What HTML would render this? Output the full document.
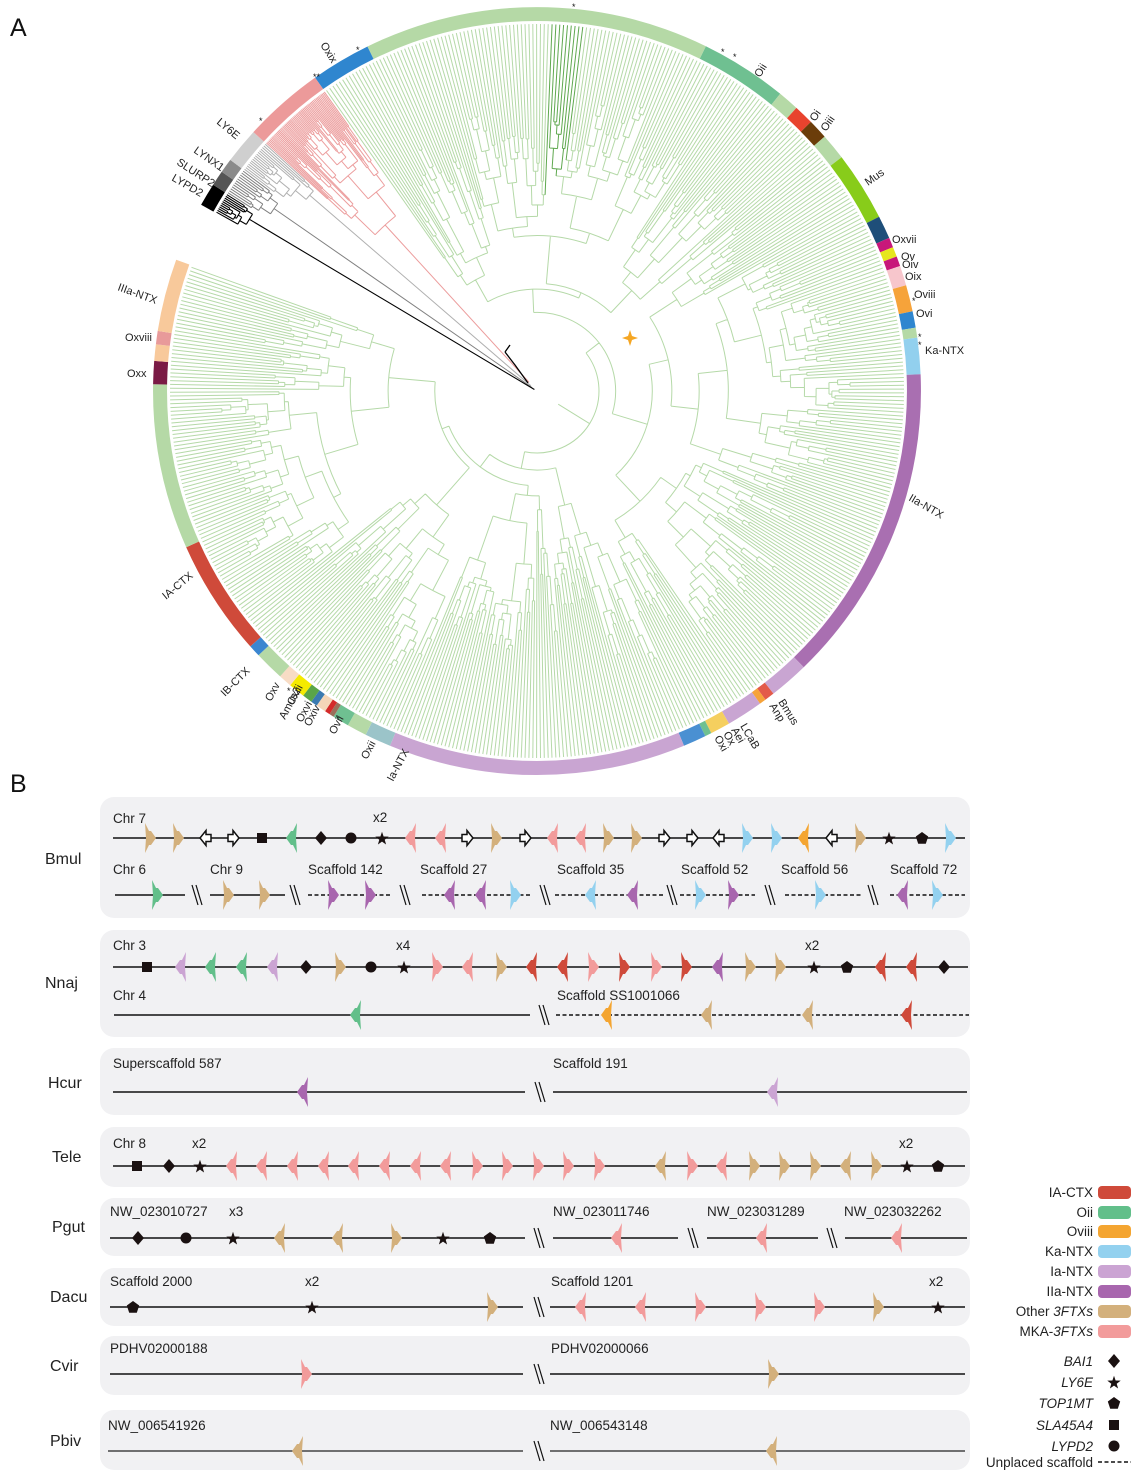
<!DOCTYPE html>
<html><head><meta charset="utf-8">
<style>
html,body{margin:0;padding:0;background:#fff;}
svg{display:block;font-family:"Liberation Sans",Arial,sans-serif;}
.lb{font-size:13.5px;fill:#222;}
.rl{font-size:16px;fill:#222;}
.tl{font-size:11px;fill:#222;}
.lg{font-size:13.5px;fill:#222;text-anchor:end;}
</style></head>
<body>
<svg id="s" width="1143" height="1479" viewBox="0 0 1143 1479" xmlns="http://www.w3.org/2000/svg">
<text x="10" y="36" font-size="25" fill="#111">A</text>
<text x="10" y="792" font-size="25" fill="#111">B</text>
<g id="tree"></g>
<g id="ring"></g>
<g class="tl">
<text transform="translate(320,45) rotate(58)">Oxix</text>
<text transform="translate(216,123) rotate(40)">LY6E</text>
<text transform="translate(193,152) rotate(35)">LYNX1</text>
<text transform="translate(176,164) rotate(33)">SLURP2</text>
<text transform="translate(171,180) rotate(30)">LYPD2</text>
<text transform="translate(760,78) rotate(-58)">Oii</text>
<text transform="translate(815,122) rotate(-55)">Oi</text>
<text transform="translate(826,132) rotate(-55)">Oiii</text>
<text transform="translate(868,186) rotate(-35)">Mus</text>
<text x="892" y="243">Oxvii</text>
<text x="901" y="260">Ov</text>
<text x="902" y="268">Oiv</text>
<text x="905" y="280">Oix</text>
<text x="914" y="298">Oviii</text>
<text x="916" y="317">Ovi</text>
<text x="925" y="354">Ka-NTX</text>
<text transform="translate(908,500) rotate(30)">IIa-NTX</text>
<text transform="translate(778,702) rotate(58)">Bmus</text>
<text transform="translate(769,706) rotate(58)">Anp</text>
<text transform="translate(740,726) rotate(60)">LCaB</text>
<text transform="translate(731,730) rotate(60)">Aei</text>
<text transform="translate(723,734) rotate(60)">Ox</text>
<text transform="translate(714,738) rotate(60)">Oxi</text>
<text transform="translate(393,782) rotate(-62)">Ia-NTX</text>
<text transform="translate(367,760) rotate(-62)">Oxii</text>
<text transform="translate(335,735) rotate(-62)">Ovii</text>
<text transform="translate(310,727) rotate(-62)">Oxiv</text>
<text transform="translate(302,723) rotate(-62)">Oxvi</text>
<text transform="translate(293,706) rotate(-62)">Oxiii</text>
<text transform="translate(285,720) rotate(-62)">Amus2</text>
<text transform="translate(271,702) rotate(-62)">Oxv</text>
<text transform="translate(225,697) rotate(-45)">IB-CTX</text>
<text transform="translate(166,600) rotate(-40)">IA-CTX</text>
<text transform="translate(117,290) rotate(20)">IIIa-NTX</text>
<text x="125" y="341">Oxviii</text>
<text x="127" y="377">Oxx</text>
</g>
<g font-size="9" fill="#111">
<text x="572" y="10">*</text><text x="356" y="53">*</text><text x="313" y="80">**</text>
<text x="259" y="124">*</text><text x="721" y="55">*</text><text x="733" y="60">*</text>
<text x="912" y="304">*</text><text x="918" y="340">*</text><text x="918" y="348">*</text>
<text x="336" y="722">*</text><text x="287" y="694">*</text>
</g>
<polygon points="630,330 632,336 638,338 632,340 630,346 628,340 622,338 628,336" fill="#f5a623"/>

<g fill="#f1f1f3">
<rect x="100" y="797" width="870" height="121" rx="14"/>
<rect x="100" y="930" width="870" height="107" rx="14"/>
<rect x="100" y="1048" width="870" height="67" rx="14"/>
<rect x="100" y="1127" width="870" height="60" rx="14"/>
<rect x="100" y="1198" width="870" height="58" rx="14"/>
<rect x="100" y="1268" width="870" height="58" rx="14"/>
<rect x="100" y="1336" width="870" height="59" rx="14"/>
<rect x="100" y="1410" width="870" height="60" rx="14"/>
</g>
<g class="rl">
<text x="45" y="864">Bmul</text>
<text x="45" y="988">Nnaj</text>
<text x="48" y="1088">Hcur</text>
<text x="52" y="1162">Tele</text>
<text x="52" y="1232">Pgut</text>
<text x="50" y="1302">Dacu</text>
<text x="50" y="1371">Cvir</text>
<text x="50" y="1446">Pbiv</text>
</g>
<g class="lb">
<text x="113" y="823">Chr 7</text><text x="373" y="822">x2</text>
<text x="113" y="874">Chr 6</text><text x="210" y="874">Chr 9</text><text x="308" y="874">Scaffold 142</text>
<text x="420" y="874">Scaffold 27</text><text x="557" y="874">Scaffold 35</text><text x="681" y="874">Scaffold 52</text>
<text x="781" y="874">Scaffold 56</text><text x="890" y="874">Scaffold 72</text>
<text x="113" y="950">Chr 3</text><text x="396" y="950">x4</text><text x="805" y="950">x2</text>
<text x="113" y="1000">Chr 4</text><text x="557" y="1000">Scaffold SS1001066</text>
<text x="113" y="1068">Superscaffold 587</text><text x="553" y="1068">Scaffold 191</text>
<text x="113" y="1148">Chr 8</text><text x="192" y="1148">x2</text><text x="899" y="1148">x2</text>
<text x="110" y="1216">NW_023010727</text><text x="229" y="1216">x3</text>
<text x="553" y="1216">NW_023011746</text><text x="707" y="1216">NW_023031289</text><text x="844" y="1216">NW_023032262</text>
<text x="110" y="1286">Scaffold 2000</text><text x="305" y="1286">x2</text>
<text x="551" y="1286">Scaffold 1201</text><text x="929" y="1286">x2</text>
<text x="110" y="1353">PDHV02000188</text><text x="551" y="1353">PDHV02000066</text>
<text x="108" y="1430">NW_006541926</text><text x="550" y="1430">NW_006543148</text>
</g>
<g id="genes"></g>
<g class="lg">
<text x="1093" y="1197">IA-CTX</text>
<text x="1093" y="1217">Oii</text>
<text x="1093" y="1236">Oviii</text>
<text x="1093" y="1256">Ka-NTX</text>
<text x="1093" y="1276">Ia-NTX</text>
<text x="1093" y="1296">IIa-NTX</text>
<text x="1093" y="1316">Other <tspan font-style="italic">3FTXs</tspan></text>
<text x="1093" y="1336">MKA-<tspan font-style="italic">3FTXs</tspan></text>
<text x="1093" y="1366" font-style="italic">BAI1</text>
<text x="1093" y="1387" font-style="italic">LY6E</text>
<text x="1093" y="1408" font-style="italic">TOP1MT</text>
<text x="1093" y="1430" font-style="italic">SLA45A4</text>
<text x="1093" y="1451" font-style="italic">LYPD2</text>
<text x="1093" y="1467">Unplaced scaffold</text>
</g>
<g>
<rect x="1098" y="1186" width="33" height="13" rx="4" fill="#cf4a3a"/>
<rect x="1098" y="1206" width="33" height="13" rx="4" fill="#62bf8a"/>
<rect x="1098" y="1225" width="33" height="13" rx="4" fill="#f4a531"/>
<rect x="1098" y="1245" width="33" height="13" rx="4" fill="#93d1ef"/>
<rect x="1098" y="1265" width="33" height="13" rx="4" fill="#cba4d3"/>
<rect x="1098" y="1285" width="33" height="13" rx="4" fill="#a866ae"/>
<rect x="1098" y="1305" width="33" height="13" rx="4" fill="#d3b07c"/>
<rect x="1098" y="1325" width="33" height="13" rx="4" fill="#f29b9b"/>
<line x1="1098" y1="1462" x2="1131" y2="1462" stroke="#111" stroke-width="1.6" stroke-dasharray="4,2.5"/>
</g>
<g id="legsym"></g>
</svg>
<script>
(function(){
var NS='http://www.w3.org/2000/svg';
function el(t,a,p){var e=document.createElementNS(NS,t);for(var k in a)e.setAttribute(k,a[k]);p.appendChild(e);return e;}
var s=1234567;function rnd(){s|=0;s=s+0x6D2B79F5|0;var t=Math.imul(s^s>>>15,1|s);t=t+Math.imul(t^t>>>7,61|t)^t;return((t^t>>>14)>>>0)/4294967296;}
var cx=537,cy=391,RT=367;
function P(b,r){var t=b*Math.PI/180;return[(cx+r*Math.sin(t)).toFixed(1),(cy-r*Math.cos(t)).toFixed(1)];}
var paths={};function add(c,d){(paths[c]=paths[c]||[]).push(d);}
function build(a0,a1,n,rp,col,o,rf){
 var c=col;
 if(col==='#b5d9a8'&&a0>=1.5&&a1<=7.5)c='#5fa84f';
 var r;
 if(n==1)r=RT;else if(rf)r=rf;else r=rp+(RT-rp)*(o.fmin+(o.fmax-o.fmin)*rnd());
 var ang;
 if(n==1){ang=(a0+a1)/2;}
 else{
  var k=Math.max(1,Math.min(n-1,Math.round(n*(0.12+0.76*rnd()))));
  var am=a0+(a1-a0)*k/n;
  var g1=build(a0,am,k,r,col,o),g2=build(am,a1,n-k,r,col,o);
  var p1=P(g1,r),p2=P(g2,r);
  add(c,'M'+p1+'A'+r.toFixed(1)+','+r.toFixed(1)+' 0 '+((g2-g1)>180?1:0)+' 1 '+p2);
  ang=(g1+g2)/2;
 }
 var q1=P(ang,rp),q2=P(ang,r);add(c,'M'+q1+'L'+q2);
 return ang;
}
build(-35.3,290,540,25,'#b5d9a8',{fmin:0.02,fmax:0.2},62);
build(-47.6,-35.3,52,12,'#ec9d9d',{fmin:0.05,fmax:0.3},225);
build(-53,-47.6,16,8,'#b0b0b0',{fmin:0.05,fmax:0.3},300);
build(-57.5,-53,12,6,'#808080',{fmin:0.05,fmax:0.3},320);
build(-61,-57.5,11,3,'#000000',{fmin:0.05,fmax:0.3},335);
var tg=document.getElementById('tree');
for(var c in paths)el('path',{d:paths[c].join(''),stroke:c,'stroke-width':c==='#000000'?1.1:1.0,fill:'none'},tg);
el('path',{d:'M528,383 L515,365 M515,365 L505,352 M505,352 L510,345 M515,365 L520,372',stroke:'#000','stroke-width':1.3,fill:'none'},tg);
var ring=[[-61,-57.5,'#000'],[-57.5,-55.2,'#555'],[-55.2,-53,'#8a8a8a'],[-53,-47.6,'#cfcfcf'],[-47.6,-35.3,'#ec9a9a'],[-35.3,-26.2,'#2f86cf'],[-26.2,26.1,'#b5d9a6'],[26.1,39.3,'#6fc091'],[39.3,42.5,'#b5d9a6'],[42.5,45.5,'#e8432e'],[45.5,48.5,'#6b3d0a'],[48.5,52.5,'#b5d9a6'],[52.5,63,'#88cc1a'],[63,66.5,'#1e4e79'],[66.5,68,'#c8177a'],[68,69.5,'#e6e61e'],[69.5,71,'#c8177a'],[71,74,'#f7c6cc'],[74,78,'#f6a33a'],[78,80.5,'#2f86cf'],[80.5,82,'#b5d9a6'],[82,87.5,'#92d0ee'],[87.5,136,'#a96fb1'],[136,142,'#c9a5d2'],[142,143.5,'#e35a4a'],[143.5,144.5,'#f6a33a'],[144.5,150,'#c9a5d2'],[150,153,'#f5cf5f'],[153,154,'#6fc091'],[154,157.5,'#4a90d2'],[157.5,202.5,'#c9a5d2'],[202.5,206.5,'#9bc4c9'],[206.5,209.5,'#b5d9a6'],[209.5,212,'#6fc091'],[212,212.7,'#9a6f5a'],[212.7,213.5,'#d42a2a'],[213.5,215,'#f4d6b8'],[215,216,'#3a7ab0'],[216,217.5,'#5aa548'],[217.5,220,'#f5ea00'],[220,222,'#f8dcc5'],[222,226.5,'#b5d9a6'],[226.5,228.3,'#3a86d0'],[228.3,246,'#cf4a3a'],[246,271,'#b5d9a6'],[271,274.5,'#7a1a45'],[274.5,277,'#f8c99b'],[277,279,'#e89a9a'],[279,290,'#f8c99b']];
var rg=document.getElementById('ring'),R1=370,R2=384;
ring.forEach(function(g){var a=P(g[0],R2),b=P(g[1],R2),c2=P(g[1],R1),d=P(g[0],R1);var L=(g[1]-g[0])>180?1:0;
 el('path',{d:'M'+a+'A'+R2+','+R2+' 0 '+L+' 1 '+b+'L'+c2+'A'+R1+','+R1+' 0 '+L+' 0 '+d+'Z',fill:g[2]},rg);});
var G=document.getElementById('genes');
var C={t:'#d3b07c',p:'#f29b9b',g:'#62bf8a',b:'#93d1ef',u:'#a866ae',l:'#cba4d3',r:'#cf4a3a',o:'#f4a531'};
function sym(t,x,y,dir,p){
 p=p||G;
 if(C[t]){var pts=[[-5,-15],[-1,-7],[1,-7],[6,0],[1,7],[-1,7],[-5,15],[-4,0]];
  el('polygon',{points:pts.map(function(q){return (x+q[0]*dir)+','+(y+q[1]);}).join(' '),fill:C[t]},p);}
 else if(t=='oR'||t=='oL'){var d=t=='oR'?1:-1;var pts=[[-5,-3.5],[0,-3.5],[0,-7.5],[6,0],[0,7.5],[0,3.5],[-5,3.5]];
  el('polygon',{points:pts.map(function(q){return (x+q[0]*d)+','+(y+q[1]);}).join(' '),fill:'#fff',stroke:'#111','stroke-width':1.5},p);}
 else if(t=='sq')el('rect',{x:x-5,y:y-5,width:10,height:10,fill:'#1a1111'},p);
 else if(t=='dia')el('polygon',{points:x+','+(y-7)+' '+(x+6)+','+y+' '+x+','+(y+7)+' '+(x-6)+','+y,fill:'#1a1111'},p);
 else if(t=='cir')el('circle',{cx:x,cy:y,r:5.5,fill:'#1a1111'},p);
 else if(t=='star'||t=='pent'){var pts=[];
  for(var i=0;i<(t=='star'?10:5);i++){var rr=t=='star'?(i%2?2.8:7):6.5;var a=Math.PI*2*i/(t=='star'?10:5);pts.push((x+rr*Math.sin(a)).toFixed(1)+','+(y-rr*Math.cos(a)+(t=='star'?0.8:0.5)).toFixed(1));}
  el('polygon',{points:pts.join(' '),fill:'#1a1111'},p);}
}
function line(x1,x2,y,dash,col){el('line',{x1:x1,x2:x2,y1:y,y2:y,stroke:col||'#111','stroke-width':1.5,'stroke-dasharray':dash?'4,2.5':'none'},G);}
function brk(x,y){el('path',{d:'M'+(x-5)+','+(y-10)+'L'+(x+1)+','+(y+10)+'M'+(x-1)+','+(y-10)+'L'+(x+5)+','+(y+10),stroke:'#111','stroke-width':1.2},G);}
function row(y,items){items.forEach(function(it){sym(it[1],it[0],y,it[2]||1);});}
line(113,965,838);
row(838,[[150,'t',1],[178,'t',1],[206,'oL'],[233,'oR'],[262,'sq'],[292,'g',-1],[321,'dia'],[351,'cir'],[382,'star'],[411,'p',-1],[441,'p',-1],[467,'oR'],[496,'t',1],[525,'oR'],[553,'p',-1],[581,'p',-1],[608,'t',1],[636,'t',1],[664,'oR'],[692,'oR'],[719,'oL'],[747,'b',1],[776,'b',1],[804,'o',-1],[832,'oL'],[860,'t',1],[889,'star'],[922,'pent'],[950,'b',1]]);
var y2=895;
line(115,185,y2);brk(197,y2);line(210,285,y2);brk(295,y2);line(308,392,y2,1);brk(405,y2);line(422,532,y2,1);brk(545,y2);line(555,665,y2,1);brk(672,y2);line(680,755,y2,1);brk(770,y2);line(785,862,y2,1);brk(873,y2);line(890,965,y2,1);
row(y2,[[157,'g',1],[228,'t',1],[264,'t',1],[333,'u',1],[370,'u',1],[450,'u',-1],[481,'u',-1],[515,'b',1],[591,'b',-1],[633,'u',-1],[700,'b',1],[733,'u',1],[820,'b',1],[903,'u',-1],[937,'b',1]]);
line(113,968,967);
row(967,[[147,'sq'],[181,'l',-1],[211,'g',-1],[242,'g',-1],[273,'l',-1],[306,'dia'],[340,'t',1],[371,'cir'],[404,'star'],[437,'p',1],[468,'p',-1],[501,'t',1],[532,'r',-1],[563,'r',-1],[593,'p',1],[624,'r',1],[656,'p',1],[686,'r',1],[718,'u',-1],[750,'t',1],[780,'t',1],[814,'star'],[847,'pent'],[881,'r',-1],[912,'r',-1],[944,'dia']]);
line(114,530,1015);brk(544,1015);line(556,969,1015,1);
row(1015,[[356,'g',-1],[607,'o',-1],[707,'t',-1],[808,'t',-1],[907,'r',-1]]);
line(113,525,1092);brk(540,1092);line(553,967,1092);
row(1092,[[303,'u',-1],[773,'l',-1]]);
line(113,965,1166);
var tl=[[137,'sq'],[169,'dia'],[200,'star']];
[232,262,293,324,354,385,416,446,477,507,538,568,599].forEach(function(x,i){tl.push([x,'p',i<8?-1:1]);});
tl.push([661,'t',-1],[692,'p',1],[722,'p',-1],[754,'t',1],[784,'t',1],[815,'t',1],[846,'t',-1],[876,'t',1],[907,'star'],[938,'pent']);
row(1166,tl);
var y=1238;line(110,525,y);brk(539,y);line(553,678,y);brk(693,y);line(707,818,y);brk(832,y);line(845,967,y);
row(y,[[138,'dia'],[186,'cir'],[233,'star'],[280,'t',-1],[338,'t',-1],[396,'t',1],[443,'star'],[490,'pent'],[617,'p',-1],[762,'p',-1],[897,'p',-1]]);
y=1307;line(110,523,y);brk(539,y);line(550,965,y);
row(y,[[133,'pent'],[312,'star'],[492,'t',1],[581,'p',-1],[641,'p',-1],[700,'p',1],[760,'p',1],[819,'p',1],[878,'t',1],[938,'star']]);
y=1374;line(110,523,y);brk(539,y);line(550,965,y);row(y,[[306,'p',1],[773,'t',1]]);
y=1451;line(108,523,y,0,'#444');brk(539,y);line(550,965,y,0,'#444');row(y,[[298,'t',-1],[772,'t',-1]]);
var LS=document.getElementById('legsym');
sym('dia',1114,1361,1,LS);sym('star',1114,1382,1,LS);sym('pent',1114,1403,1,LS);sym('sq',1114,1425,1,LS);sym('cir',1114,1446,1,LS);
})();
</script>
</body></html>
